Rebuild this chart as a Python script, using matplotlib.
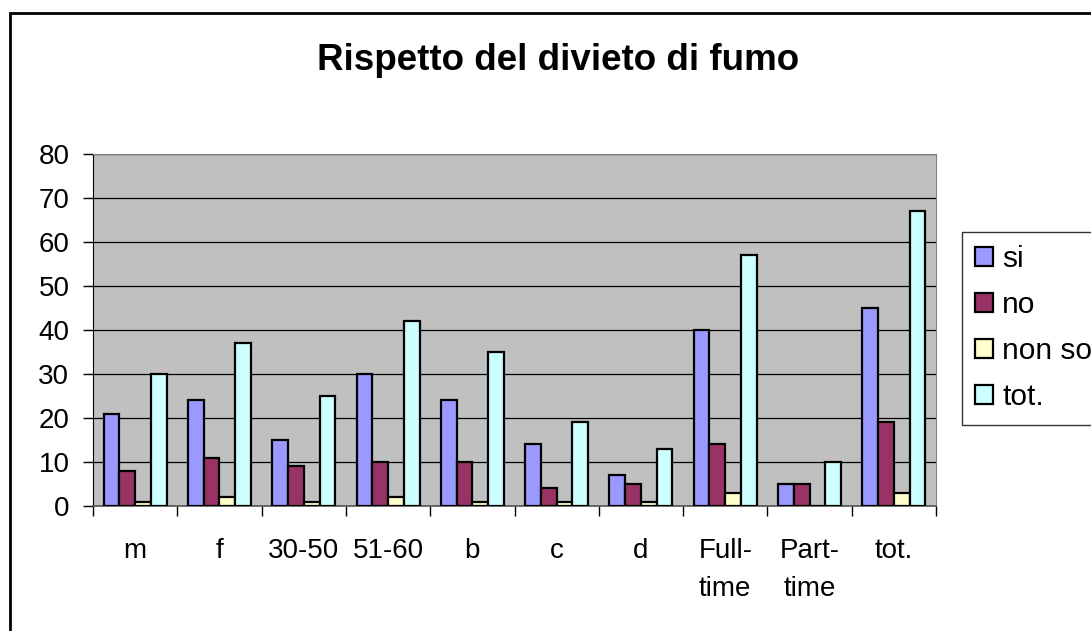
import numpy as np
import matplotlib.pyplot as plt
from matplotlib.patches import Rectangle

plt.rcParams['font.family'] = ['Liberation Sans', 'DejaVu Sans']

# survey answers per group
categories = ['m', 'f', '30-50', '51-60', 'b', 'c', 'd', 'Full-\ntime', 'Part-\ntime', 'tot.']
si = [21, 24, 15, 30, 24, 14, 7, 40, 5, 45]
no = [8, 11, 9, 10, 10, 4, 5, 14, 5, 19]
non_so = [1, 2, 1, 2, 1, 1, 1, 3, 0, 3]
tot = [30, 37, 25, 42, 35, 19, 13, 57, 10, 67]

series = [('si', si, '#9999FF'),
          ('no', no, '#993366'),
          ('non so', non_so, '#FFFFCC'),
          ('tot.', tot, '#CCFFFF')]

W, H = 1091, 631
fig = plt.figure(figsize=(W / 100, H / 100), dpi=100)
ax = fig.add_axes([93 / W, 1 - 506 / H, (936 - 93) / W, (506 - 154) / H])
ax.set_facecolor('#C0C0C0')

x = np.arange(len(categories))
w = 0.187
for j, (name, vals, col) in enumerate(series):
    ax.bar(x + (j - 1.5) * w, vals, w, color=col, edgecolor='black',
           linewidth=1.6, label=name, zorder=3)

ax.set_xlim(-0.5, len(categories) - 0.5)
ax.set_ylim(0, 80)
ax.set_yticks(range(0, 81, 10))
ax.yaxis.grid(True, color='black', linewidth=0.9, zorder=1)
ax.tick_params(axis='y', direction='out', length=7, width=1, pad=10, labelsize=20)

ax.set_xticks(x)
ax.set_xticklabels(categories, linespacing=1.58)
ax.set_xticks(np.arange(-0.5, len(categories)), minor=True)
ax.tick_params(axis='x', which='major', length=0, pad=23, labelsize=20)
ax.tick_params(axis='x', which='minor', direction='out', length=7, width=1)

for side in ['top', 'right']:
    ax.spines[side].set_color('#808080')
ax.spines['left'].set_color('black')
ax.spines['bottom'].set_color('#555555')
ax.spines['bottom'].set_linewidth(1.2)

fig.text(558 / W, 1 - 61 / H, 'Rispetto del divieto di fumo', ha='center',
         va='center', fontsize=26.5, fontweight='bold')

leg = fig.legend(loc='upper left', bbox_to_anchor=(962 / W, 1 - 232 / H),
                 fontsize=21.5, frameon=True, fancybox=False, edgecolor='black',
                 handlelength=0.6, handleheight=0.6, handletextpad=0.3,
                 labelspacing=0.6, borderpad=0.45, borderaxespad=0)
leg.get_frame().set_linewidth(1.0)

# chart border
fig.patches.append(Rectangle((10 / W, -0.05), 1.05, 1 - 13 / H + 0.05,
                             transform=fig.transFigure, fill=False,
                             edgecolor='black', linewidth=2))

fig.savefig('out.png', dpi=100)
